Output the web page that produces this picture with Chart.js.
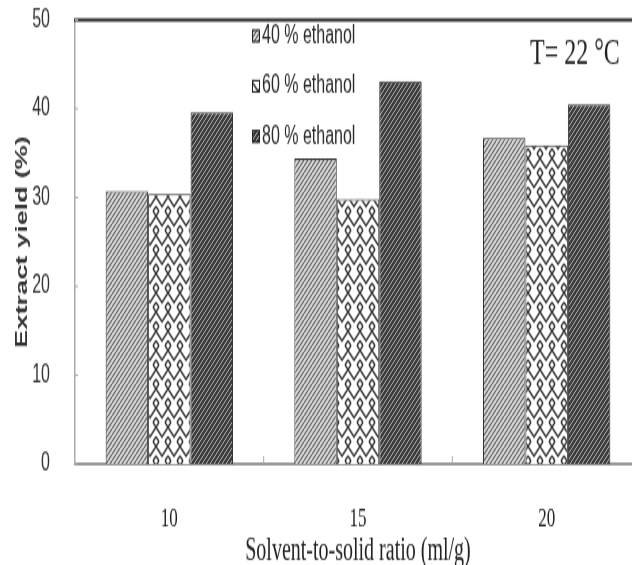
<!DOCTYPE html>
<html>
<head>
<meta charset="utf-8">
<script src="https://cdn.jsdelivr.net/npm/chart.js@4.4.1/dist/chart.umd.min.js"></script>
<style>
  html { overflow: hidden; background: #fff; }
  body { margin: 0; padding: 0; width: 632px; height: 565px; background: #fff; }
  /* the source figure is stretched vertically, so draw flat and stretch */
  #wrap { width: 641px; height: 353px; transform: scaleY(1.6); transform-origin: 0 0; }
</style>
</head>
<body>
<div id="wrap"><canvas id="chart"></canvas></div>
<script>
const categories = ['10', '15', '20'];
const seriesLabels = ['40 % ethanol', '60 % ethanol', '80 % ethanol'];
const ethanol40 = [30.7, 34.4, 36.7];
const ethanol60 = [30.4, 29.8, 35.9];
const ethanol80 = [39.6, 43.1, 40.5];
const yTicks = [0, 10, 20, 30, 40, 50];
const noteText = 'T= 22 °C';
const xTitle = 'Solvent-to-solid ratio (ml/g)';
const yTitle = 'Extract yield (%)';

function makePattern(kind) {
  const c = document.createElement('canvas');
  const p = c.getContext('2d');
  if (kind === 'light') {
    c.width = 4; c.height = 4;
    p.fillStyle = '#dedede';
    p.fillRect(0, 0, 4, 4);
    p.strokeStyle = '#5a5a5a';
    p.lineWidth = 1.1;
    [-4, 0, 4].forEach(ox => {
      p.beginPath(); p.moveTo(ox, 4); p.lineTo(ox + 4, 0); p.stroke();
    });
  } else if (kind === 'dark') {
    c.width = 4; c.height = 4;
    p.fillStyle = '#3c3c3c';
    p.fillRect(0, 0, 4, 4);
    p.strokeStyle = '#bdbdbd';
    p.lineWidth = 0.9;
    [-4, 0, 4].forEach(ox => {
      p.beginPath(); p.moveTo(ox, 4); p.lineTo(ox + 4, 0); p.stroke();
    });
  } else {
    c.width = 12; c.height = 12;
    p.fillStyle = '#fff';
    p.fillRect(0, 0, 12, 12);
    p.strokeStyle = '#333';
    p.lineWidth = 1.4;
    p.beginPath();
    p.moveTo(0, 3); p.lineTo(6, 9); p.lineTo(12, 3);
    p.moveTo(0, 9); p.lineTo(3, 12);
    p.moveTo(12, 9); p.lineTo(9, 12);
    p.moveTo(3, 0); p.lineTo(0, 3);
    p.moveTo(9, 0); p.lineTo(12, 3);
    p.stroke();
  }
  return p.createPattern(c, 'repeat');
}

const fills = [makePattern('light'), makePattern('weave'), makePattern('dark')];

const extras = {
  id: 'extras',
  afterDraw(chart) {
    const {ctx, chartArea, scales} = chart;
    const x = scales.x, y = scales.y;
    ctx.save();
    // heavy top frame line
    ctx.strokeStyle = '#222';
    ctx.lineWidth = 2;
    ctx.beginPath();
    ctx.moveTo(chartArea.left - 1, chartArea.top);
    ctx.lineTo(chart.width, chartArea.top);
    ctx.stroke();

    // small inward tick marks
    ctx.strokeStyle = '#aaa';
    ctx.lineWidth = 1;
    for (let i = 1; i < categories.length; i++) {
      const px = (x.getPixelForValue(i - 1) + x.getPixelForValue(i)) / 2;
      ctx.beginPath();
      ctx.moveTo(px, chartArea.bottom);
      ctx.lineTo(px, chartArea.bottom - 5);
      ctx.stroke();
    }
    yTicks.forEach(v => {
      const py = y.getPixelForValue(v);
      ctx.beginPath();
      ctx.moveTo(chartArea.left, py);
      ctx.lineTo(chartArea.left + 3, py);
      ctx.stroke();
    });

    // legend inside the plot
    ctx.font = '16px "Liberation Sans", Arial, sans-serif';
    ctx.textBaseline = 'middle';
    ctx.textAlign = 'left';
    chart.data.datasets.forEach((ds, i) => {
      const cy = 22.5 + i * 31.4;
      ctx.fillStyle = ds.backgroundColor;
      ctx.fillRect(252, cy - 4, 8, 8);
      ctx.strokeStyle = '#222';
      ctx.lineWidth = 1;
      ctx.strokeRect(252.5, cy - 3.5, 7, 7);
      ctx.fillStyle = '#2a2a2a';
      ctx.fillText(ds.label, 262, cy);
    });

    // temperature note
    ctx.font = '24px "Liberation Serif", "Times New Roman", serif';
    ctx.fillStyle = '#222';
    ctx.fillText(noteText, 530, 33.5);
    ctx.restore();
  }
};

const datasets = [ethanol40, ethanol60, ethanol80].map((values, i) => ({
  label: seriesLabels[i],
  data: values,
  backgroundColor: fills[i],
  borderColor: '#333',
  borderWidth: 1,
  categoryPercentage: 0.675,
  barPercentage: 1.0
}));

new Chart(document.getElementById('chart'), {
  type: 'bar',
  data: { labels: categories, datasets: datasets },
  options: {
    responsive: true,
    maintainAspectRatio: false,
    animation: false,
    layout: { padding: { top: 12.5, left: 0, right: 0, bottom: 0 } },
    plugins: {
      legend: { display: false },
      tooltip: { enabled: false }
    },
    scales: {
      x: {
        afterFit: s => { s.height = 63; },
        grid: { display: false },
        border: { color: '#9a9a9a', width: 2 },
        ticks: {
          padding: 16,
          color: '#222',
          font: { family: '"Liberation Serif", "Times New Roman", serif', size: 17 }
        },
        title: {
          display: true,
          text: xTitle,
          color: '#222',
          font: { family: '"Liberation Serif", "Times New Roman", serif', size: 20, lineHeight: 1 },
          padding: { top: 0, bottom: -2 }
        }
      },
      y: {
        min: 0,
        max: 50,
        afterFit: s => {
          s.width = 75;
          // tick padding would otherwise be added above the top tick
          s.paddingTop = 10;
          s.paddingBottom = 0;
        },
        afterBuildTicks: s => { s.ticks = yTicks.map(v => ({ value: v })); },
        grid: { display: false },
        border: { color: '#aaa', width: 1.5 },
        ticks: {
          padding: 17,
          color: '#333',
          font: { family: '"Liberation Sans", Arial, sans-serif', size: 16 }
        },
        title: {
          display: true,
          text: yTitle,
          color: '#333',
          font: { family: '"Liberation Sans", Arial, sans-serif', size: 17, weight: 'bold', lineHeight: 1 },
          padding: { top: 14, bottom: 0 }
        }
      }
    }
  },
  plugins: [extras]
});
</script>
</body>
</html>
